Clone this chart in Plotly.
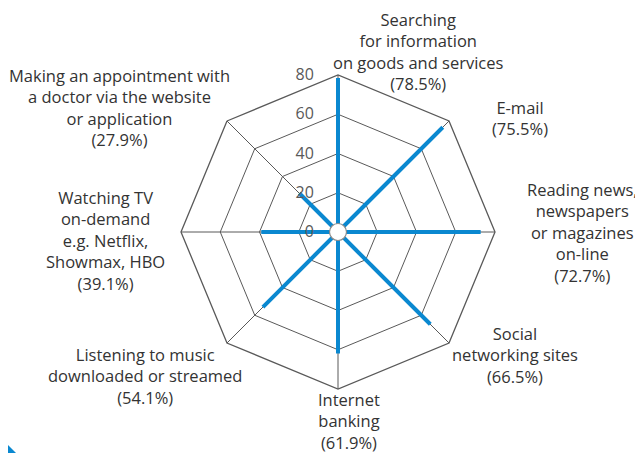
import plotly.graph_objects as go

categories = [
    "Searching<br>for information<br>on goods and services",
    "E-mail",
    "Reading news,<br>newspapers<br>or magazines<br>on-line",
    "Social<br>networking sites",
    "Internet<br>banking",
    "Listening to music<br>downloaded or streamed",
    "Watching TV<br>on-demand<br>e.g. Netflix,<br>Showmax, HBO",
    "Making an appointment with<br>a doctor via the website<br>or application",
]
values = [78.5, 75.5, 72.7, 66.5, 61.9, 54.1, 39.1, 27.9]
radial_ticks = [0, 20, 40, 60, 80]

# where the category texts sit, in window pixels
label_pos = [(418, 51), (520, 118), (582, 232), (515, 355),
             (349, 421), (145, 376), (105, 240), (119, 107)]

OFF = 8  # page body margin
W, H = 643 - OFF, 453 - OFF
BLUE = "#0a88d0"
GRID = "#595959"


def px(x):
    return (x - OFF) / W


def py(y):
    return 1 - (y - OFF) / H


dom_x = [px(181), px(495)]
dom_y = [py(389), py(75)]

fig = go.Figure()
for cat, v in zip(categories, values):
    fig.add_trace(go.Scatterpolar(
        r=[0, v], theta=[cat, cat], mode="lines",
        line=dict(color=BLUE, width=4), showlegend=False, hoverinfo="skip"))

annotations = []
for cat, v, (lx, ly) in zip(categories, values, label_pos):
    annotations.append(dict(
        text=f"{cat}<br>({v}%)", x=px(lx), y=py(ly), xref="paper", yref="paper",
        xanchor="center", yanchor="middle", align="center", showarrow=False,
        font=dict(family="Open Sans", size=16.5, color="#333333")))

hub_x = sum(dom_x) / 2
hub_y = sum(dom_y) / 2

fig.update_layout(
    width=W, height=H, margin=dict(l=0, r=0, t=0, b=0),
    paper_bgcolor="white", plot_bgcolor="white",
    font=dict(family="Open Sans", size=14, color="#333333"),
    polar=dict(
        domain=dict(x=dom_x, y=dom_y),
        gridshape="linear", bgcolor="white",
        angularaxis=dict(direction="clockwise", rotation=90, showticklabels=False,
                         ticks="", showline=True, linecolor=GRID, linewidth=1.3,
                         gridcolor=GRID, gridwidth=1.3),
        radialaxis=dict(range=[0, 80], tickvals=radial_ticks, angle=90, tickangle=90,
                        side="counterclockwise", showline=False,
                        ticks="outside", ticklen=18, tickcolor="rgba(0,0,0,0)",
                        tickfont=dict(family="Open Sans", size=16, color="#595959"),
                        gridcolor=GRID, gridwidth=1.3),
    ),
    annotations=annotations,
    shapes=[
        dict(type="path", xref="paper", yref="paper",
             path=f"M 0 0 L {8 / W} 0 L 0 {8 / H} Z",
             fillcolor=BLUE, line=dict(width=0)),
        dict(type="circle", xref="paper", yref="paper",
             xsizemode="pixel", ysizemode="pixel",
             xanchor=hub_x, yanchor=hub_y, x0=-8.5, x1=8.5, y0=-8.5, y1=8.5,
             fillcolor="white", line=dict(color="#8a8a8a", width=1.2)),
    ],
)

fig.write_html("out.html")
